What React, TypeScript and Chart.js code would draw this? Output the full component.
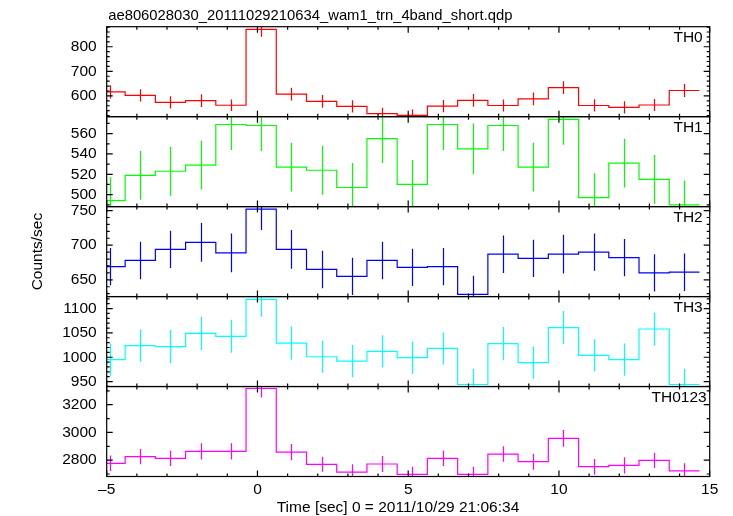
import React, { useEffect, useRef } from 'react';
import { Chart, registerables } from 'chart.js';

Chart.register(...registerables);

const TITLE = 'ae806028030_20111029210634_wam1_trn_4band_short.qdp';
const X_TITLE = 'Time [sec] 0 = 2011/10/29 21:06:34';
const Y_TITLE = 'Counts/sec';

// time bin centres (sec) and bin width
const binCenters = [-4.89, -3.887, -2.885, -1.882, -0.88, 0.123, 1.126, 2.128, 3.131, 4.133, 5.136, 6.139, 7.141, 8.144, 9.146, 10.149, 11.152, 12.154, 13.157, 14.159];
const binWidth = 1.0026;

const th0 = [616, 602, 574, 581, 562, 871, 607, 578, 557, 528, 521, 558, 582, 561, 588, 634, 561, 553, 563, 622];
const th0Err = [27, 25, 25, 26, 23, 30, 26, 26, 25, 24, 24, 25, 26, 24, 26, 26, 25, 25, 24, 26];
const th1 = [494, 519, 523, 529, 569, 568, 527, 524, 507, 555, 510, 569, 545, 568, 527, 574, 497, 531, 515, 490];
const th1Err = [23, 24, 24, 24, 25, 25, 24, 24, 24, 24, 24, 25, 25, 25, 24, 25, 24, 24, 24, 24];
const th2 = [669, 678, 694, 704, 689, 752, 694, 665, 655, 678, 668, 669, 629, 687, 681, 687, 690, 682, 660, 661];
const th2Err = [27, 27, 27, 28, 28, 30, 28, 27, 27, 27, 27, 27, 27, 27, 27, 28, 27, 27, 27, 27];
const th3 = [995, 1024, 1022, 1049, 1043, 1119, 1029, 1001, 992, 1012, 999, 1018, 944, 1028, 989, 1061, 1004, 995, 1058, 944];
const th3Err = [33, 33, 34, 34, 34, 36, 34, 33, 33, 33, 33, 33, 32, 34, 33, 34, 33, 33, 34, 32];
const th0123 = [2777, 2825, 2813, 2863, 2863, 3317, 2858, 2770, 2714, 2772, 2698, 2813, 2698, 2844, 2789, 2957, 2753, 2762, 2799, 2722];
const th0123Err = [56, 55, 55, 58, 58, 65, 58, 54, 56, 58, 54, 55, 54, 56, 58, 60, 56, 58, 55, 55];

const panelNames = ['TH0', 'TH1', 'TH2', 'TH3', 'TH0123'];
const panelColors = ['#ff0000', '#00ff00', '#0000ff', '#00ffff', '#ff00ff'];
const panelSeries = [th0, th1, th2, th3, th0123];
const panelErrors = [th0Err, th1Err, th2Err, th3Err, th0123Err];
const panelMin = [515.5, 488.2, 625.8, 939.8, 2682];
const panelMax = [881.6, 576.7, 755.7, 1124.6, 3331];
const th0Ticks = [600, 700, 800];
const th1Ticks = [500, 520, 540, 560];
const th2Ticks = [650, 700, 750];
const th3Ticks = [950, 1000, 1050, 1100];
const th0123Ticks = [2800, 3000, 3200];
const panelTicks = [th0Ticks, th1Ticks, th2Ticks, th3Ticks, th0123Ticks];
const panelMajorStep = [100, 20, 50, 50, 200];
const panelMinorStep = [20, 10, 10, 10, 100];

const xMin = -5;
const xMax = 15;
const xTicks = [-5, 0, 5, 10, 15];
const xMajorStep = 5;
const xMinorStep = 1;

const FONT = '"Liberation Sans", Arial, Helvetica, sans-serif';
const FS = 15.5;

function isMultiple(v: number, step: number) {
  const r = v / step;
  return Math.abs(r - Math.round(r)) < 1e-6;
}

const qdpPlugin = {
  id: 'qdp',
  afterDatasetsDraw(chart: any) {
    const ctx = chart.ctx;
    const xs = chart.scales.x;
    const area = chart.chartArea;
    panelSeries.forEach((vals, i) => {
      const ys = chart.scales['y' + i];
      const errs = panelErrors[i];
      ctx.save();
      ctx.beginPath();
      ctx.rect(area.left, ys.top, area.right - area.left, ys.bottom - ys.top);
      ctx.clip();
      ctx.strokeStyle = panelColors[i];
      ctx.lineWidth = 1.2;
      binCenters.forEach((c, k) => {
        const x = Math.round(xs.getPixelForValue(c)) + 0.5;
        ctx.beginPath();
        ctx.moveTo(x, ys.getPixelForValue(vals[k] - errs[k]));
        ctx.lineTo(x, ys.getPixelForValue(vals[k] + errs[k]));
        ctx.stroke();
      });
      ctx.restore();
    });
  },
  afterDraw(chart: any) {
    const ctx = chart.ctx;
    const xs = chart.scales.x;
    const area = chart.chartArea;
    ctx.save();
    ctx.strokeStyle = '#000';
    ctx.lineWidth = 1.2;
    const MAJ = 6;
    const MIN = 3;
    panelSeries.forEach((_, i) => {
      const ys = chart.scales['y' + i];
      ctx.strokeRect(area.left, ys.top, area.right - area.left, ys.bottom - ys.top);
      ctx.beginPath();
      const mstep = panelMinorStep[i];
      const n0 = Math.ceil(ys.min / mstep);
      const n1 = Math.floor(ys.max / mstep);
      for (let n = n0; n <= n1; n++) {
        const v = n * mstep;
        const y = ys.getPixelForValue(v);
        const len = isMultiple(v, panelMajorStep[i]) ? MAJ : MIN;
        ctx.moveTo(area.left, y);
        ctx.lineTo(area.left + len, y);
        ctx.moveTo(area.right, y);
        ctx.lineTo(area.right - len, y);
      }
      const m0 = Math.ceil(xMin / xMinorStep);
      const m1 = Math.floor(xMax / xMinorStep);
      for (let n = m0; n <= m1; n++) {
        const v = n * xMinorStep;
        const x = xs.getPixelForValue(v);
        const len = isMultiple(v, xMajorStep) ? MAJ : MIN;
        ctx.moveTo(x, ys.top);
        ctx.lineTo(x, ys.top + len);
        ctx.moveTo(x, ys.bottom);
        ctx.lineTo(x, ys.bottom - len);
      }
      ctx.stroke();
      ctx.fillStyle = '#000';
      ctx.font = `${FS}px ${FONT}`;
      ctx.textAlign = 'right';
      ctx.textBaseline = 'middle';
      ctx.fillText(panelNames[i], i === 4 ? area.right - 3 : area.right - 7, ys.top + 11);
    });
    ctx.fillStyle = '#000';
    ctx.font = `14.8px ${FONT}`;
    ctx.textAlign = 'left';
    ctx.textBaseline = 'alphabetic';
    ctx.fillText(TITLE, area.left + 1.5, 19.5);
    ctx.font = `${FS}px ${FONT}`;
    ctx.textAlign = 'center';
    ctx.fillText(X_TITLE, 398, 512);
    ctx.translate(38, (area.top + area.bottom) / 2);
    ctx.rotate(-Math.PI / 2);
    ctx.textBaseline = 'middle';
    ctx.fillText(Y_TITLE, 0, 0);
    ctx.restore();
  },
};

function buildConfig(): any {
  const scales: any = {
    x: {
      type: 'linear',
      position: 'bottom',
      min: xMin,
      max: xMax,
      grid: { display: false, drawTicks: false },
      border: { display: false },
      ticks: {
        padding: 4,
        autoSkip: false,
        font: { size: FS, family: FONT },
        color: '#000',
        maxRotation: 0,
        callback: (v: number) => (v < 0 ? '\u2013' + Math.abs(v) : String(v)),
      },
      afterBuildTicks: (s: any) => {
        s.ticks = xTicks.map((v) => ({ value: v }));
      },
      afterFit: (s: any) => {
        s.height = 39.5;
      },
    },
  };
  // stacked left axes are laid out in reverse order of definition: define bottom panel first
  for (let i = panelNames.length - 1; i >= 0; i--) {
    scales['y' + i] = {
      type: 'linear',
      position: 'left',
      stack: 'panels',
      stackWeight: 1,
      min: panelMin[i],
      max: panelMax[i],
      grid: { display: false, drawTicks: false },
      border: { display: false },
      ticks: {
        padding: 10,
        autoSkip: false,
        font: { size: FS, family: FONT },
        color: '#000',
        callback: (v: number) => String(v),
      },
      afterBuildTicks: (s: any) => {
        s.ticks = panelTicks[i].map((v) => ({ value: v }));
      },
      afterFit: (s: any) => {
        s.width = 106.7;
      },
    };
  }

  const datasets = panelSeries.map((vals, i) => {
    const pts: { x: number; y: number }[] = [];
    pts.push({ x: binCenters[0] - binWidth / 2, y: vals[0] });
    binCenters.forEach((c, k) => pts.push({ x: c, y: vals[k] }));
    pts.push({ x: binCenters[binCenters.length - 1] + binWidth / 2, y: vals[vals.length - 1] });
    return {
      label: panelNames[i],
      data: pts,
      xAxisID: 'x',
      yAxisID: 'y' + i,
      borderColor: panelColors[i],
      borderWidth: 1.2,
      stepped: 'middle',
      pointRadius: 0,
      fill: false,
    };
  });

  return {
    type: 'line',
    data: { datasets },
    options: {
      responsive: false,
      animation: false,
      events: [],
      layout: { padding: { top: 26.7, right: 23.3, bottom: 0, left: 0 } },
      plugins: { legend: { display: false }, tooltip: { enabled: false }, title: { display: false } },
      scales,
    },
    plugins: [qdpPlugin],
  };
}

export default function App() {
  const ref = useRef<HTMLCanvasElement>(null);
  useEffect(() => {
    if (!ref.current) return;
    const chart = new Chart(ref.current, buildConfig());
    return () => chart.destroy();
  }, []);
  return (
    <div style={{ position: 'fixed', left: 0, top: 0, width: 733, height: 516, background: '#fff' }}>
      <canvas ref={ref} width={733} height={516} style={{ display: 'block', width: 733, height: 516 }} />
    </div>
  );
}
